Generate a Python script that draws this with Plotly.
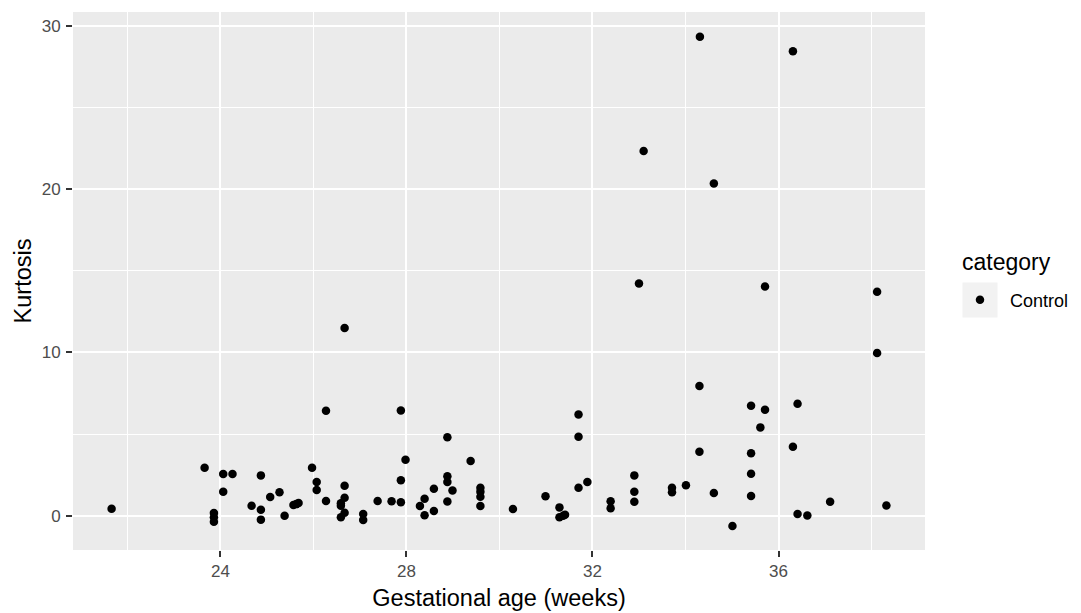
import plotly.graph_objects as go

# Data
gest_age = [
    21.66,
    23.66, 23.86, 23.86, 23.86, 24.06, 24.06, 24.26,
    24.67, 24.87, 24.87, 24.87, 25.07, 25.27, 25.38, 25.57, 25.63, 25.68,
    25.97, 26.07, 26.07, 26.27, 26.27,
    26.67, 26.67, 26.59, 26.59, 26.67, 26.59, 26.67,
    27.07, 27.07, 27.38, 27.68, 27.88, 27.88, 27.88, 27.98,
    28.29, 28.39, 28.39, 28.59, 28.59, 28.88, 28.88, 28.88, 28.88, 28.99,
    29.38, 29.59, 29.59, 29.59, 29.59,
    30.29, 30.99, 31.29, 31.29, 31.37, 31.41,
    31.70, 31.70, 31.70, 31.89, 32.39, 32.39,
    32.90, 32.90, 32.90, 33.00, 33.10, 33.71, 33.71, 34.01,
    34.30, 34.30, 34.31, 34.61, 34.61, 35.01,
    35.41, 35.41, 35.41, 35.41, 35.61, 35.71, 35.71,
    36.31, 36.31, 36.41, 36.41, 36.62, 37.11, 38.12, 38.12, 38.32,
]
kurtosis = [
    0.43,
    2.94, 0.16, -0.10, -0.37, 2.55, 1.47, 2.55,
    0.61, 2.47, 0.37, -0.24, 1.14, 1.43, 0.00, 0.65, 0.71, 0.78,
    2.94, 2.06, 1.57, 6.43, 0.90,
    11.50, 1.84, 0.76, 0.61, 1.10, -0.10, 0.18,
    0.10, -0.26, 0.90, 0.88, 6.45, 2.17, 0.82, 3.43,
    0.59, 1.04, 0.03, 1.65, 0.29, 4.80, 2.41, 2.06, 0.87, 1.54,
    3.35, 1.71, 1.47, 1.16, 0.59,
    0.41, 1.19, 0.51, -0.10, 0.00, 0.06,
    6.20, 4.84, 1.71, 2.06, 0.88, 0.45,
    2.47, 1.47, 0.86, 14.22, 22.34, 1.71, 1.43, 1.86,
    7.94, 3.92, 29.34, 20.34, 1.39, -0.63,
    6.73, 3.82, 2.57, 1.21, 5.41, 6.49, 14.04,
    28.44, 4.22, 6.86, 0.10, 0.02, 0.86, 13.71, 9.96, 0.63,
]
category = "Control"
legend_title = "category"
x_ticks = [24, 28, 32, 36]
y_ticks = [0, 10, 20, 30]

FONT = "Liberation Sans, Arial"
W, H = 1081, 613

fig = go.Figure()
fig.add_trace(go.Scatter(
    x=gest_age, y=kurtosis, mode="markers", name=category,
    marker=dict(color="black", size=8.5, line=dict(width=0)),
    showlegend=True,
))

axis_common = dict(
    showgrid=True, gridcolor="white", gridwidth=1.8,
    zeroline=False, showline=False, automargin=False,
    ticks="outside", ticklen=6, tickwidth=1.6, tickcolor="#333333",
    tickfont=dict(family=FONT, size=17, color="#4D4D4D"),
    minor=dict(showgrid=True, gridcolor="white", gridwidth=0.9, ticks=""),
)

fig.update_layout(
    width=W, height=H,
    margin=dict(l=73, r=156, t=12, b=63),
    paper_bgcolor="white", plot_bgcolor="#EBEBEB",
    font=dict(family=FONT, color="black"),
    xaxis=dict(
        range=[20.83, 39.15], tickvals=x_ticks, ticktext=[str(v) for v in x_ticks],
        title=dict(text="Gestational age (weeks)", font=dict(size=23.5), standoff=9),
        ticklabelstandoff=0,
        **axis_common,
    ),
    yaxis=dict(
        range=[-2.1, 30.85], tickvals=y_ticks, ticktext=[str(v) for v in y_ticks],
        title=dict(text="Kurtosis", font=dict(size=23.5), standoff=3),
        ticklabelstandoff=2,
        **axis_common,
    ),
    legend=dict(
        font=dict(family=FONT, size=18),
        xref="container", yref="container",
        x=950 / W, xanchor="left",
        y=(H - 300) / H, yanchor="middle",
        bgcolor="rgba(0,0,0,0)", itemwidth=50,
    ),
    shapes=[dict(
        type="rect", xref="paper", yref="paper", layer="below",
        x0=(962.5 - 73) / 852, x1=(997.5 - 73) / 852,
        y0=(550 - 317.5) / 538, y1=(550 - 282.5) / 538,
        fillcolor="#F2F2F2", line=dict(width=0),
    )],
    annotations=[dict(
        text=legend_title, xref="paper", yref="paper", showarrow=False,
        x=(960 - 73) / 852, xanchor="left",
        y=(550 - 261.5) / 538, yanchor="middle",
        font=dict(family=FONT, size=23, color="black"),
    )],
)
fig.update_xaxes(minor=dict(tickvals=[22, 26, 30, 34, 38]))
fig.update_yaxes(minor=dict(tickvals=[5, 15, 25]))

fig.write_html("out.html")
